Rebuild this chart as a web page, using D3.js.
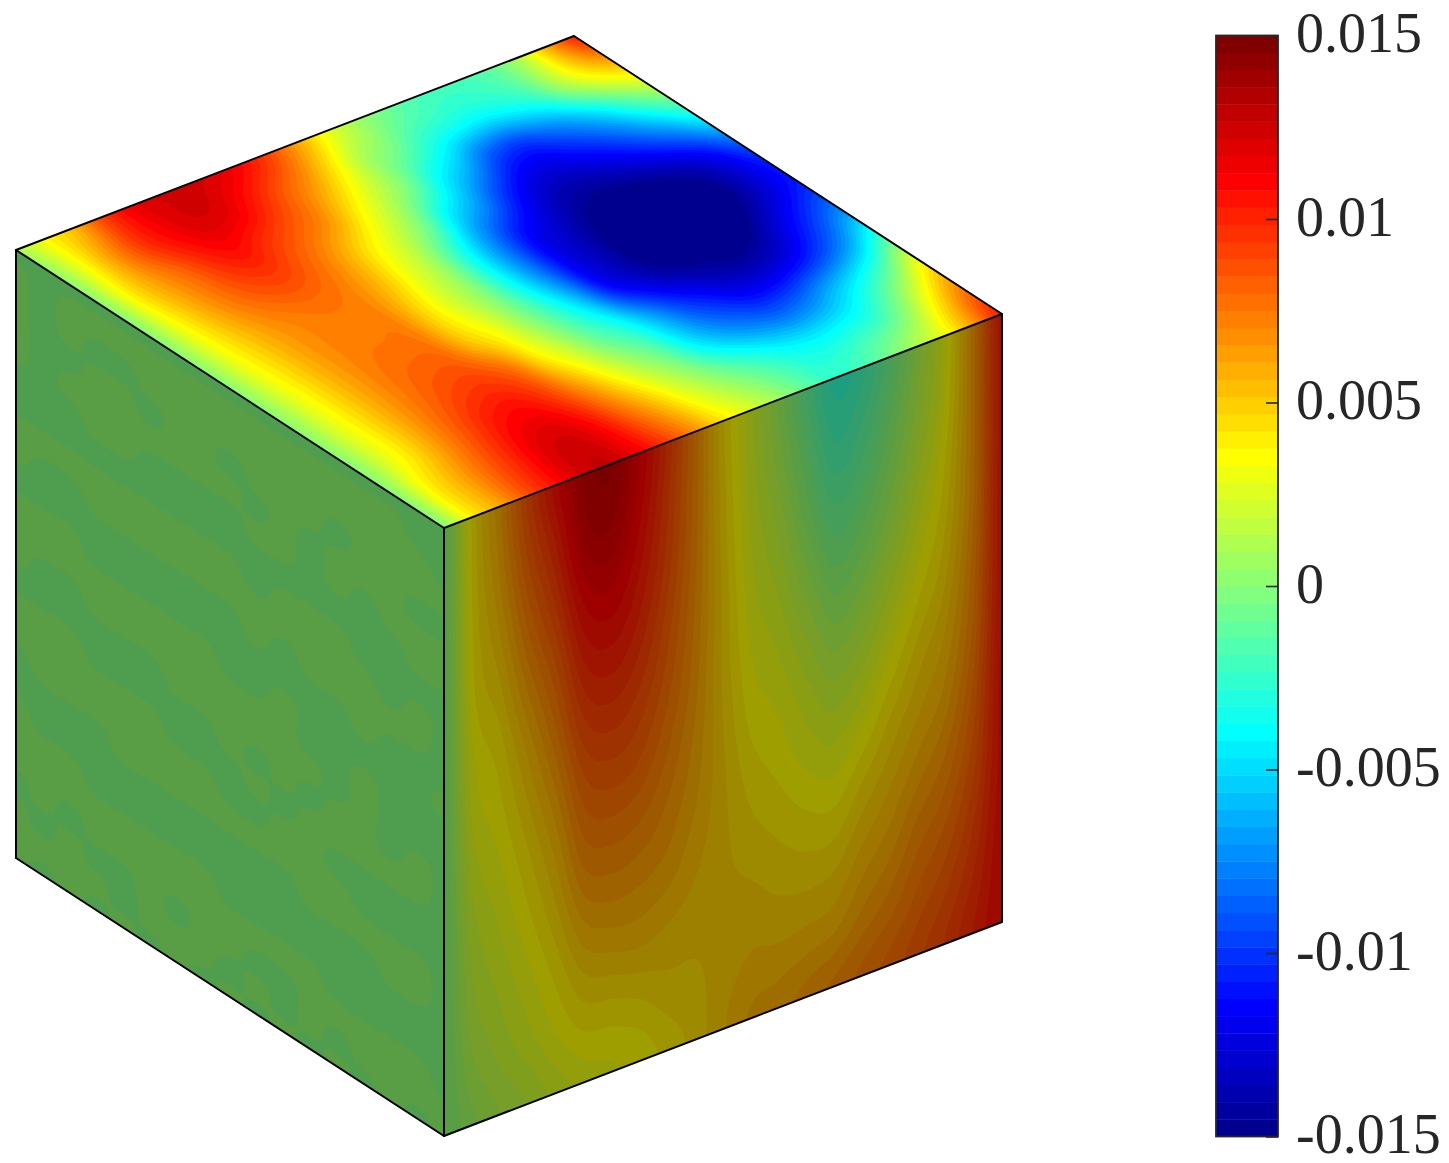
<!DOCTYPE html>
<html>
<head>
<meta charset="utf-8">
<script src="https://cdn.jsdelivr.net/npm/d3@7"></script>
<style>
html,body{margin:0;padding:0;background:#fff;}
svg{display:block;}
</style>
</head>
<body>
<svg id="chart" width="1449" height="1163"></svg>
<script>
// Colour bar
const tickValues = [-0.015,-0.01,-0.005,0,0.005,0.01,0.015];
const tickLabels = ["-0.015","-0.01","-0.005","0","0.005","0.01","0.015"];
const jetIndex = [0,7,23,39,55,63];
const jetColors = ["#00008f","#0000ff","#00ffff","#ffff00","#ff0000","#800000"];

// Top face values (x 1e-3): rows run from the rear-left edge to the front-right edge
const topField = [
[1,3.5,5.5,9,11.3,12.2,12.4,12,10.9,9,6.2,3.3,1,-.5,-1.6,-2.1,-1.9,-1,1.5,6,10],
[.4,3.5,6.7,9.4,11,12,11.8,10.3,8.5,6.6,3.9,1,-.5,-2.4,-3.4,-3.9,-3.4,-2.1,1,3.7,5.5],
[.2,3.8,6.2,8,9.8,10.6,9.5,8.3,6.8,4.2,1.8,-.4,-3.7,-6,-9,-10,-8.7,-7,-4.7,-1.8,.5],
[.1,3.3,5.6,7.4,8.6,9,8.1,6.4,4.2,2.1,-.4,-4.5,-7,-10.3,-12.5,-13,-12.2,-11,-9.2,-7,-4.5],
[.2,3,5,6.5,7.3,7.6,7.2,5.5,3,.6,-3.5,-7.5,-11,-12.7,-14.3,-15,-15,-14.5,-13.5,-11.8,-9.5],
[.2,2.8,4.7,6.3,7.2,7.4,7.2,4.7,2.3,0,-3.8,-7.8,-11.8,-13.6,-15.2,-16.5,-17,-16.5,-14.8,-12.8,-11],
[.2,2.6,4.6,6.3,7.5,8,7.8,5.2,3.2,.4,-2.5,-6,-10.8,-13,-14.5,-15,-15.5,-14.8,-12.7,-10.5,-8.5],
[.2,2.6,4.6,6.5,8,9,9.2,7.8,4.3,1.8,-1,-3.2,-6.5,-9.5,-11.3,-12.7,-12.8,-11.8,-9.8,-7,-3.5],
[.1,2.6,4.7,7,9,10.5,10.8,9.3,6.5,3.6,1.2,-1,-4.2,-6.5,-8,-8.8,-8,-6,-3.8,-1,2.8],
[.1,3.6,5.8,8,10,11.8,12.2,10.8,8.2,5.6,3,1,-.8,-2.4,-3.7,-4,-3.4,-2.4,.2,3.8,7],
[0,3.8,6,8.6,10.6,12.3,12.7,11.3,9.3,6.9,4.3,2.5,.8,-1,-2.5,-2,-.6,1.2,3.2,6.5,10.2]
];

// Right face values (x 1e-3): one row per vertical line, top to bottom, front corner to right corner
const rightField = [
[0,0,0,0,0,0,0,0,0,0,0],
[3.8,3.75,3.65,3.5,3.1,2.8,2.4,2,1.7,1.3,.8],
[6,5.7,5.2,4.6,4,3.6,3.2,2.8,2.4,2,1.4],
[8.6,8,7.2,6.3,5.4,4.7,4.1,3.6,3.1,2.6,1.9],
[10.6,9.8,8.9,7.9,7,6.1,5.3,4.6,3.9,3.3,2.5],
[12.3,11.9,10.9,9.9,8.9,7.9,7,6,4.9,3.9,3],
[12.7,12.2,11.3,10.3,9.3,8.3,7.3,6.3,5.2,4,3.2],
[11.3,10.9,10.3,9.6,8.8,8,7.1,6.2,5.3,4.2,3.4],
[9.3,9,8.7,8.2,7.7,7.1,6.5,5.9,5.1,4.5,3.9],
[6.9,6.8,6.7,6.5,6.3,6,5.7,5.3,4.9,4.6,4.4],
[4.3,4.4,4.5,4.6,4.6,4.7,4.8,4.8,4.8,4.9,5.1],
[2.5,2.6,2.8,3,3.3,3.6,4,4.4,4.8,5.2,5.7],
[.8,1.2,1.7,2.2,2.7,3.2,3.6,4.1,4.6,5.2,5.9],
[-1,-.4,.2,1,1.8,2.5,3.1,3.8,4.5,5.3,6.3],
[-2.5,-1.9,-1,-.1,.9,1.9,2.8,3.7,4.6,5.5,6.7],
[-2,-1.3,-.5,.4,1.4,2.4,3.4,4.4,5.3,6.2,7.2],
[-.6,0,.7,1.5,2.5,3.4,4.3,5.1,5.9,6.8,7.7],
[1.2,1.6,2.2,2.9,3.6,4.4,5.1,5.9,6.8,7.6,8.3],
[3.2,3.4,3.8,4.2,4.7,5.3,5.9,6.7,7.5,8.3,9],
[6.5,6.5,6.5,6.6,6.9,7.2,7.7,8.2,8.8,9.4,9.9],
[10.2,10.2,10.2,10.3,10.3,10.4,10.5,10.5,10.6,10.7,10.8]
];

// Left face: near-zero residual, sign of the value per cell, rows top to bottom
const leftSigns = [
"-----------------",
"+-+++++++++++++--",
"+-+--+++++++++++-",
"+--++-++-+++-++++",
"+-+++++++-+-+++--",
"---++----++-+-+++",
"---------------++",
"+++++++++-+++----",
"+--+++++++++++-+-",
"---------+-+++++-",
"+++----------+---",
"++++++++--+-----+",
"+--++++++++--+---",
"------++++++-+---",
"+++-----+-+-++-+-",
"++++++---+-+++++-",
"-+++++++--++-----",
"----+++++++++----",
"+----------+++++-",
"+++-----------++-",
"++++++++---------",
"-+-+++++++++-----",
"+-+--+-++--+++++-",
"++++-+++-+-+-++++",
"+-+-+-+-+-+-+-+-+"
];

const levelCount = 64;
const sideShade = 0.62;
const barWidthPx = 62;

const svg = d3.select("#chart");
const defs = svg.append("defs");

// Cube projection through scales
const origin = {x:16, y:250};
const uX = d3.scaleLinear().domain([0,1]).range([0,428]);
const vX = d3.scaleLinear().domain([0,1]).range([0,558]);
const uY = d3.scaleLinear().domain([0,1]).range([0,278]);
const vY = d3.scaleLinear().domain([0,1]).range([0,-214]);
const zY = d3.scaleLinear().domain([0,1]).range([0,608]);
const project = (u,v,z) => [origin.x+uX(u)+vX(v), origin.y+uY(u)+vY(v)+zY(z)];

const jet = d3.scaleLinear().domain(jetIndex).range(jetColors).interpolate(d3.interpolateRgb);
const step = 30/levelCount;                    // in units of 1e-3
const thresholds = d3.range(levelCount).map(k => -15 + k*step);

function shade(c,f){ const r=d3.rgb(c); return d3.rgb(r.r*f,r.g*f,r.b*f).formatRgb(); }

// Smooth resampling of a read grid for drawing contour bands (Catmull-Rom)
function cr(p0,p1,p2,p3,t){
  return 0.5*((2*p1)+(-p0+p2)*t+(2*p0-5*p1+4*p2-p3)*t*t+(-p0+3*p1-3*p2+p3)*t*t*t);
}
function resample(m,f){
  const nr=m.length,nc=m[0].length,H=(nr-1)*f+1,W=(nc-1)*f+1;
  const at=(r,c)=>m[Math.max(0,Math.min(nr-1,r))][Math.max(0,Math.min(nc-1,c))];
  const out=new Float64Array(W*H);
  for(let j=0;j<H;j++){
    const rf=j/f,r=Math.min(Math.floor(rf),nr-2),tr=rf-r;
    for(let i=0;i<W;i++){
      const cf=i/f,c=Math.min(Math.floor(cf),nc-2),tc=cf-c;
      const col=[-1,0,1,2].map(d=>cr(at(r+d,c-1),at(r+d,c),at(r+d,c+1),at(r+d,c+2),tc));
      const val=cr(col[0],col[1],col[2],col[3],tr);
      out[j*W+i]=Math.max(-14.999,Math.min(14.999,val));
    }
  }
  return {W,H,values:out};
}

function drawFace(id,matrix,f,toPoint,corners,factor){
  const g=resample(matrix,f);
  const colT=d3.scaleLinear().domain([0.5,g.W-0.5]).range([0,1]);
  const rowT=d3.scaleLinear().domain([0.5,g.H-0.5]).range([0,1]);
  const path=d3.geoPath(d3.geoTransform({
    point(x,y){ const p=toPoint(rowT(y),colT(x)); this.stream.point(p[0],p[1]); }
  }));
  defs.append("clipPath").attr("id",id).append("path")
    .attr("d",d3.line()(corners)+"Z");
  const layer=svg.append("g").attr("clip-path",`url(#${id})`);
  layer.append("path").attr("d",d3.line()(corners)+"Z")
    .attr("fill",shade(jet(0),factor));
  const polys=d3.contours().size([g.W,g.H]).thresholds(thresholds)(g.values);
  layer.selectAll("path.band").data(polys.filter(p=>p.coordinates.length)).join("path")
    .attr("class","band")
    .attr("d",path)
    .attr("fill",d=>shade(jet(thresholds.indexOf(d.value)),factor));
}

const leftField = leftSigns.map(s => Array.from(s).map(ch => ch==="+" ? 0.12 : -0.12));

drawFace("clipTop",topField,8,(r,c)=>project(r,c,0),
  [project(0,0,0),project(0,1,0),project(1,1,0),project(1,0,0)],1);
drawFace("clipRight",rightField,8,(r,c)=>project(1,r,c),
  [project(1,0,0),project(1,1,0),project(1,1,1),project(1,0,1)],sideShade);
drawFace("clipLeft",leftField,6,(r,c)=>project(c,0,r),
  [project(0,0,0),project(1,0,0),project(1,0,1),project(0,0,1)],sideShade);

// Cube edges
const edges=[
 [[0,0,0],[0,1,0]],[[0,1,0],[1,1,0]],[[1,1,0],[1,0,0]],[[1,0,0],[0,0,0]],
 [[0,0,0],[0,0,1]],[[1,0,0],[1,0,1]],[[1,1,0],[1,1,1]],
 [[0,0,1],[1,0,1]],[[1,0,1],[1,1,1]]
];
svg.append("g").selectAll("path").data(edges).join("path")
  .attr("d",e=>d3.line()(e.map(p=>project(p[0],p[1],p[2]))))
  .attr("fill","none").attr("stroke","#000").attr("stroke-width",2).attr("stroke-linecap","round");

// Colour bar
const barX=1216;
const barY=d3.scaleLinear().domain([-0.015,0.015]).range([1136.5,35.5]);
const bar=svg.append("g");
bar.selectAll("rect").data(d3.range(levelCount)).join("rect")
  .attr("x",barX).attr("width",barWidthPx)
  .attr("y",k=>barY(-0.015+(k+1)*0.03/levelCount))
  .attr("height",k=>barY(-0.015+k*0.03/levelCount)-barY(-0.015+(k+1)*0.03/levelCount)+0.4)
  .attr("fill",k=>jet(k));
bar.append("rect").attr("x",barX).attr("y",barY(0.015)).attr("width",barWidthPx)
  .attr("height",barY(-0.015)-barY(0.015)).attr("fill","none")
  .attr("stroke","#262626").attr("stroke-width",1.8);

const axis=d3.axisRight(barY).tickValues(tickValues)
  .tickFormat((d,i)=>tickLabels[i]).tickSizeInner(-12).tickSizeOuter(0).tickPadding(18);
const axG=svg.append("g").attr("transform",`translate(${barX+barWidthPx},0)`).call(axis);
axG.select(".domain").remove();
axG.selectAll(".tick line").attr("stroke","#262626").attr("stroke-width",1.6);
axG.selectAll(".tick text")
  .attr("fill","#262626").attr("dy","0.29em")
  .style("font-family","'Liberation Serif',serif").style("font-size","56px");
</script>
</body>
</html>
